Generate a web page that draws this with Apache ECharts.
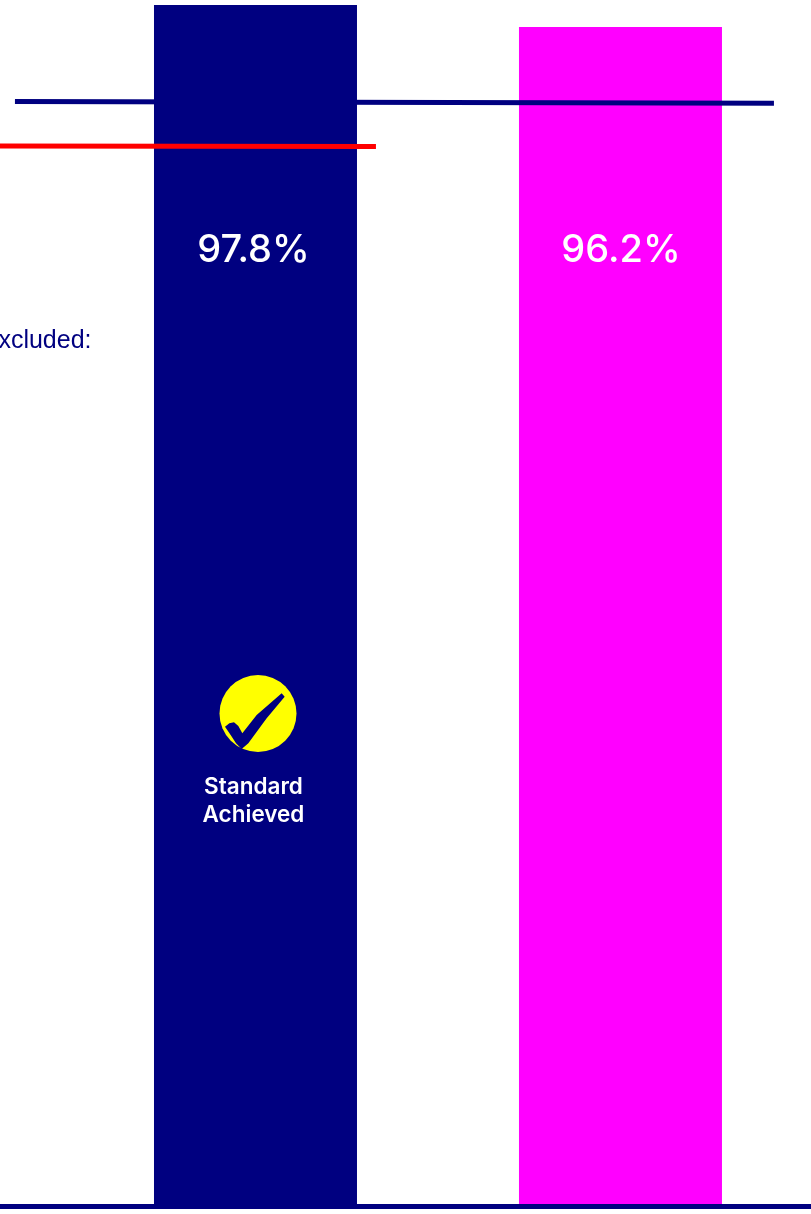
<!DOCTYPE html>
<html>
<head>
<meta charset="utf-8">
<title>Standard achieved</title>
<style>
  html, body { margin: 0; padding: 0; background: #fff; }
  #main { width: 811px; height: 1214px; }
</style>
<script src="https://cdn.jsdelivr.net/npm/echarts@6/dist/echarts.min.js"></script>
</head>
<body>
<div id="main"></div>
<script>
  // bars (x = bar slot, the first one at 0, the second at 1)
  var barPositions = [0, 1];
  var barValues = [97.8, 96.2];
  var barLabels = ['97.8%', '96.2%'];
  // the two reference lines
  var blueLineX = [-0.659, 1.4205];
  var blueLineY = [90.78, 90.66];
  var redLineX = [-0.7, 0.33];
  var redLineY = [87.55, 87.51];
  var noteText = 'Excluded:';
  var badgeText = 'Standard\nAchieved';

  function pairs(xs, ys) {
    return xs.map(function (x, i) {
      return [x, ys[i]];
    });
  }

  function barSeries(i, color, z, labelOffset, distance) {
    return {
      type: 'bar',
      data: [[barPositions[i], barValues[i]]],
      barWidth: 203,
      barGap: '-100%',
      z: z,
      itemStyle: { color: color },
      label: {
        show: true,
        position: 'insideTop',
        distance: distance,
        offset: labelOffset,
        color: '#fff',
        fontFamily: 'Inter',
        fontSize: 38,
        fontWeight: 500,
        formatter: barLabels[i]
      }
    };
  }

  var myChart = echarts.init(document.getElementById('main'), null, { renderer: 'canvas' });
  var option = {
    backgroundColor: '#fff',
    animation: false,
    grid: { left: 0, right: 0, top: 5, height: 1201.5 },
    xAxis: {
      type: 'value',
      min: -0.7,
      max: 1.522,
      z: 5,
      axisLine: { show: true, onZero: false, lineStyle: { color: '#000080', width: 5 } },
      axisTick: { show: false },
      axisLabel: { show: false },
      splitLine: { show: false }
    },
    yAxis: {
      type: 'value',
      min: 10.5,
      max: 97.8,
      show: false
    },
    series: [
      barSeries(1, '#ff00ff', 1, [0.5, 0], 205),
      {
        type: 'line',
        data: pairs(blueLineX, blueLineY),
        symbol: 'none',
        z: 2,
        lineStyle: { color: '#000080', width: 5, cap: 'butt' }
      },
      barSeries(0, '#000080', 3, [-2, 0], 227),
      {
        type: 'line',
        data: pairs(redLineX, redLineY),
        symbol: 'none',
        z: 4,
        lineStyle: { color: '#ff0000', width: 5, cap: 'butt' }
      }
    ],
    graphic: [
      {
        type: 'text',
        x: 91.5,
        y: 341,
        z: 10,
        style: {
          text: noteText,
          align: 'right',
          verticalAlign: 'middle',
          fill: '#000080',
          fontFamily: 'Liberation Sans',
          fontSize: 25
        }
      },
      {
        type: 'circle',
        z: 10,
        shape: { cx: 258, cy: 713.5, r: 38.5 },
        style: { fill: '#ffff00' }
      },
      {
        // tick mark, traced in the 3x crop
        type: 'polygon',
        x: 180,
        y: 660,
        z: 11,
        scaleX: 1 / 3,
        scaleY: 1 / 3,
        shape: {
          points: [[135, 200], [148, 190], [162, 187], [175, 198], [187, 220],
            [230, 165], [305, 100], [314, 110], [260, 175], [205, 250], [185, 267],
            [168, 250], [152, 225]]
        },
        style: { fill: '#000080' }
      },
      {
        type: 'text',
        x: 253.5,
        y: 801,
        z: 10,
        style: {
          text: badgeText,
          align: 'center',
          verticalAlign: 'middle',
          fill: '#fff',
          fontFamily: 'Inter',
          fontWeight: 600,
          fontSize: 22.5,
          lineHeight: 28
        }
      }
    ]
  };
  myChart.setOption(option);
</script>
</body>
</html>
